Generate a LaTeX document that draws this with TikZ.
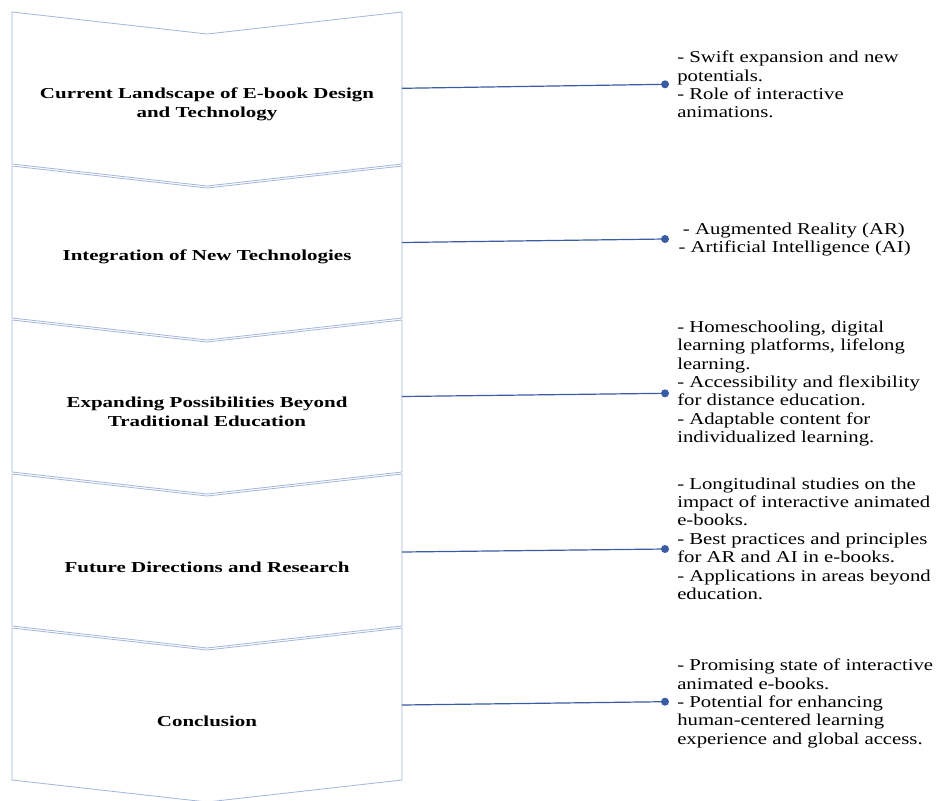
\documentclass[tikz,border=0pt]{standalone}
\usepackage{fontspec}
\setmainfont{Liberation Serif}
\newfontfamily\bodyfont[FakeStretch=1.25]{Liberation Serif}
\newfontfamily\headfont[FakeStretch=1.38]{Liberation Serif}
\definecolor{chev}{HTML}{A3B5DB}
\definecolor{conn}{HTML}{3A5CA5}
\begin{document}
\begin{tikzpicture}[x=0.75pt,y=-0.75pt,
  chevron/.style={draw=chev, line width=0.6pt},
  title/.style={font=\headfont\bfseries\fontsize{11.4}{14.3}\selectfont, align=center, inner sep=0pt, anchor=center},
  bullets/.style={font=\bodyfont\fontsize{12.45}{13.8}\selectfont, align=left, inner sep=0pt, anchor=base west},
  link/.style={draw=conn, line width=0.9pt},
  dotnode/.style={circle, fill=conn, inner sep=0pt, minimum size=6pt}
]
\useasboundingbox (0,0) rectangle (938,800);
\fill[white] (0,0) rectangle (938,800);

% chevrons
\foreach \T in {12,166,320,474,628} {
  \draw[chevron] (12,\T) -- (207,\T+22) -- (402,\T) -- (402,\T+152) -- (207,\T+174) -- (12,\T+152) -- cycle;
}

% titles
\node[title] (t1) at (207,104) {Current Landscape of E-book Design\\and Technology};
\node[title] (t2) at (207,257) {Integration of New Technologies};
\node[title] (t3) at (207,412) {Expanding Possibilities Beyond\\Traditional Education};
\node[title] (t4) at (207,567) {Future Directions and Research};
\node[title] (t5) at (207,721) {Conclusion};

% connector start points on the chevron edge
\coordinate (e1) at (402,88.3);
\coordinate (e2) at (402,242.5);
\coordinate (e3) at (402,396.5);
\coordinate (e4) at (402,552);
\coordinate (e5) at (402,705);

% dots
\node[dotnode] (d1) at (665,84.3) {};
\node[dotnode] (d2) at (665,239) {};
\node[dotnode] (d3) at (665,393.3) {};
\node[dotnode] (d4) at (665,549) {};
\node[dotnode] (d5) at (665,701.7) {};

\foreach \i in {1,...,5} {
  \draw[link] (e\i) -- (d\i.center);
}

% bullet texts (anchored at the baseline of their last line)
\node[bullets] (b1) at (677,117.9) {- Swift expansion and new\\potentials.\\- Role of interactive\\animations.};
\node[bullets] (b2) at (678.3,252.7) {\hspace*{3.3pt}- Augmented Reality (AR)\\- Artificial Intelligence (AI)};
\node[bullets] (b3) at (677,442.7) {- Homeschooling, digital\\learning platforms, lifelong\\learning.\\- Accessibility and flexibility\\for distance education.\\- Adaptable content for\\individualized learning.};
\node[bullets] (b4) at (677,599.4) {- Longitudinal studies on the\\impact of interactive animated\\e-books.\\- Best practices and principles\\for AR and AI in e-books.\\- Applications in areas beyond\\education.};
\node[bullets] (b5) at (677,744.3) {- Promising state of interactive\\animated e-books.\\- Potential for enhancing\\human-centered learning\\experience and global access.};
\end{tikzpicture}
\end{document}
